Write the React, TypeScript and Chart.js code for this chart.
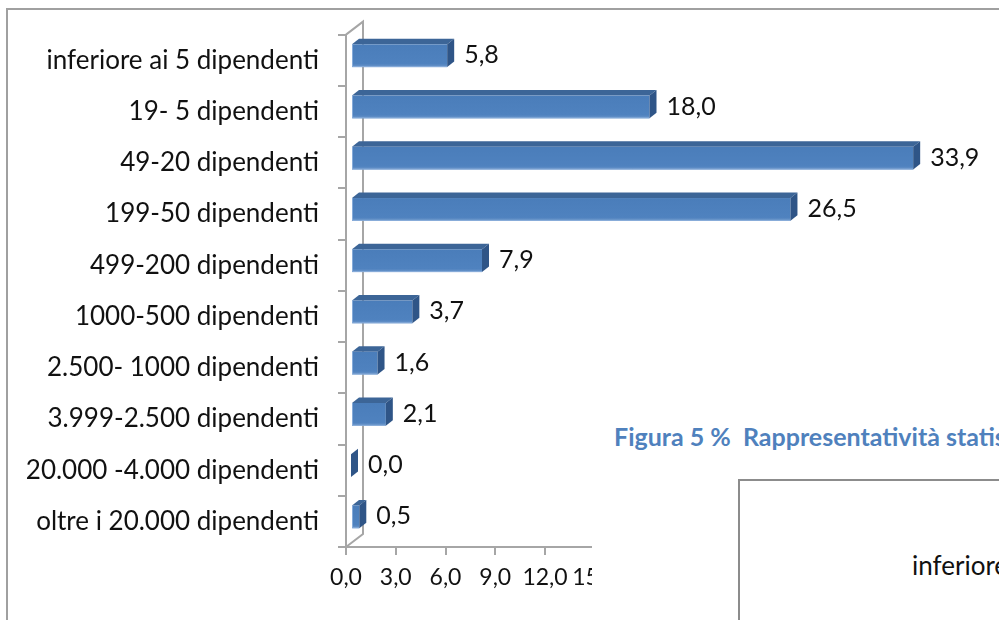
import React, { useEffect, useRef } from "react";
import { Chart, registerables } from "chart.js";

Chart.register(...registerables);

const categories = [
  "inferiore ai 5 dipendenti",
  "19- 5 dipendenti",
  "49-20 dipendenti",
  "199-50 dipendenti",
  "499-200 dipendenti",
  "1000-500 dipendenti",
  "2.500- 1000 dipendenti",
  "3.999-2.500 dipendenti",
  "20.000 -4.000 dipendenti",
  "oltre i 20.000 dipendenti",
];
const values = [5.8, 18.0, 33.9, 26.5, 7.9, 3.7, 1.6, 2.1, 0.0, 0.5];
const xMin = 0;
const xMax = 36;
const xStep = 3;
const caption = "Figura 5 %  Rappresentatività statistica";
const insetLabel = "inferiore ai 5 dipendenti";

const FONT = "Lato, 'Open Sans', sans-serif";
const fmt = (v: number) => v.toFixed(1).replace(".", ",");

const BAR_SHIFT = { x: 5, y: -4.5 };
const DEPTH = { x: 7, y: -5.5 };
const WALL = { x: 17, y: -13 };

const threeD = {
  id: "threeD",
  beforeDatasetsDraw(chart: any) {
    const { ctx, chartArea } = chart;
    const { left, top, bottom } = chartArea;
    ctx.save();
    ctx.strokeStyle = "#a6a6a6";
    ctx.lineWidth = 2;
    ctx.beginPath();
    ctx.moveTo(left, top);
    ctx.lineTo(left + WALL.x, top + WALL.y);
    ctx.lineTo(left + WALL.x, bottom + WALL.y);
    ctx.lineTo(left, bottom);
    ctx.stroke();
    ctx.restore();
  },
  afterDatasetsDraw(chart: any) {
    const { ctx } = chart;
    const meta = chart.getDatasetMeta(0);
    ctx.save();
    meta.data.forEach((el: any, i: number) => {
      const p = el.getProps(["x", "y", "base", "height"], true);
      const x0 = p.base + BAR_SHIFT.x;
      const x1 = p.x + BAR_SHIFT.x;
      const yT = p.y - p.height / 2 + BAR_SHIFT.y;
      const yB = yT + p.height;
      // top face
      ctx.fillStyle = "#3c6597";
      ctx.beginPath();
      ctx.moveTo(x0, yT);
      ctx.lineTo(x1, yT);
      ctx.lineTo(x1 + DEPTH.x, yT + DEPTH.y);
      ctx.lineTo(x0 + DEPTH.x, yT + DEPTH.y);
      ctx.closePath();
      ctx.fill();
      // front face
      if (x1 > x0) {
        const g = ctx.createLinearGradient(0, yT, 0, yB);
        g.addColorStop(0, "#4a7dba");
        g.addColorStop(0.85, "#4f82bf");
        g.addColorStop(1, "#6d97cb");
        ctx.fillStyle = g;
        ctx.fillRect(x0, yT, x1 - x0, yB - yT);
        ctx.strokeStyle = "rgba(140,175,220,0.9)";
        ctx.lineWidth = 1;
        ctx.beginPath();
        ctx.moveTo(x0 + 0.5, yT);
        ctx.lineTo(x0 + 0.5, yB - 0.5);
        ctx.lineTo(x1, yB - 0.5);
        ctx.stroke();
      }
      // side face
      ctx.fillStyle = "#2f5587";
      ctx.beginPath();
      ctx.moveTo(x1, yT);
      ctx.lineTo(x1 + DEPTH.x, yT + DEPTH.y);
      ctx.lineTo(x1 + DEPTH.x, yB + DEPTH.y);
      ctx.lineTo(x1, yB);
      ctx.closePath();
      ctx.fill();
      // value label
      ctx.fillStyle = "#111";
      ctx.font = `25px ${FONT}`;
      ctx.textAlign = "left";
      ctx.textBaseline = "middle";
      ctx.fillText(fmt(values[i]), x1 + DEPTH.x + 10, p.y - 5);
    });
    ctx.restore();
  },
};

function BarChart() {
  const ref = useRef<HTMLCanvasElement | null>(null);
  useEffect(() => {
    if (!ref.current) return;
    const chart = new Chart(ref.current, {
      type: "bar",
      data: {
        labels: categories,
        datasets: [
          {
            data: values,
            backgroundColor: "rgba(0,0,0,0)",
            borderWidth: 0,
            barPercentage: 0.445,
            categoryPercentage: 1,
          },
        ],
      },
      options: {
        indexAxis: "y",
        responsive: false,
        animation: false,
        devicePixelRatio: 1,
        layout: { padding: { top: 30, right: 56, bottom: 0, left: 0 } },
        plugins: {
          legend: { display: false },
          tooltip: { enabled: false },
          title: { display: false },
        },
        scales: {
          y: {
            type: "category",
            offset: true,
            afterFit: (scale: any) => {
              scale.width = 346;
            },
            grid: {
              display: true,
              offset: true,
              drawOnChartArea: false,
              drawTicks: true,
              tickLength: 8,
              color: "#a6a6a6",
              lineWidth: 2,
            },
            border: { display: true, color: "#a6a6a6", width: 2 },
            ticks: {
              autoSkip: false,
              padding: 19,
              color: "#111",
              font: { family: FONT, size: 26 },
            },
          },
          x: {
            type: "linear",
            min: xMin,
            max: xMax,
            afterFit: (scale: any) => {
              scale.height = 620 - 547;
            },
            grid: {
              display: true,
              drawOnChartArea: false,
              drawTicks: true,
              tickLength: 8,
              color: "#a6a6a6",
              lineWidth: 2,
            },
            border: { display: true, color: "#a6a6a6", width: 2 },
            ticks: {
              stepSize: xStep,
              autoSkip: false,
              maxRotation: 0,
              minRotation: 0,
              padding: 9,
              color: "#111",
              font: { family: FONT, size: 23 },
              callback: (v: any) => fmt(Number(v)),
            },
          },
        },
      },
      plugins: [threeD],
    });
    return () => chart.destroy();
  }, []);
  return (
    <canvas
      ref={ref}
      width={999}
      height={620}
      style={{ position: "absolute", left: 0, top: 0, width: 999, height: 620 }}
    />
  );
}

export default function App() {
  return (
    <div
      style={{
        position: "absolute",
        left: 0,
        top: 0,
        width: 999,
        height: 620,
        overflow: "hidden",
        background: "#fff",
        fontFamily: FONT,
      }}
    >
      <div
        style={{
          position: "absolute",
          left: 6,
          top: 8,
          width: 1200,
          height: 900,
          border: "2px solid #a0a0a0",
          boxSizing: "border-box",
        }}
      />
      <BarChart />
      <div
        style={{
          position: "absolute",
          left: 592,
          top: 425,
          width: 407,
          height: 195,
          background: "#fff",
          overflow: "hidden",
        }}
      >
        <div
          style={{
            position: "absolute",
            left: 22,
            top: -3,
            whiteSpace: "pre",
            color: "#4f81bd",
            fontWeight: 700,
            fontSize: 25,
            lineHeight: "28px",
          }}
        >
          {caption}
        </div>
        <div
          style={{
            position: "absolute",
            left: 146,
            top: 54,
            width: 400,
            height: 300,
            border: "2px solid #8c8c8c",
            boxSizing: "border-box",
          }}
        >
          <div
            style={{
              position: "absolute",
              left: 172,
              top: 68,
              whiteSpace: "pre",
              color: "#111",
              fontSize: 26,
              lineHeight: "32px",
            }}
          >
            {insetLabel}
          </div>
        </div>
      </div>
    </div>
  );
}
